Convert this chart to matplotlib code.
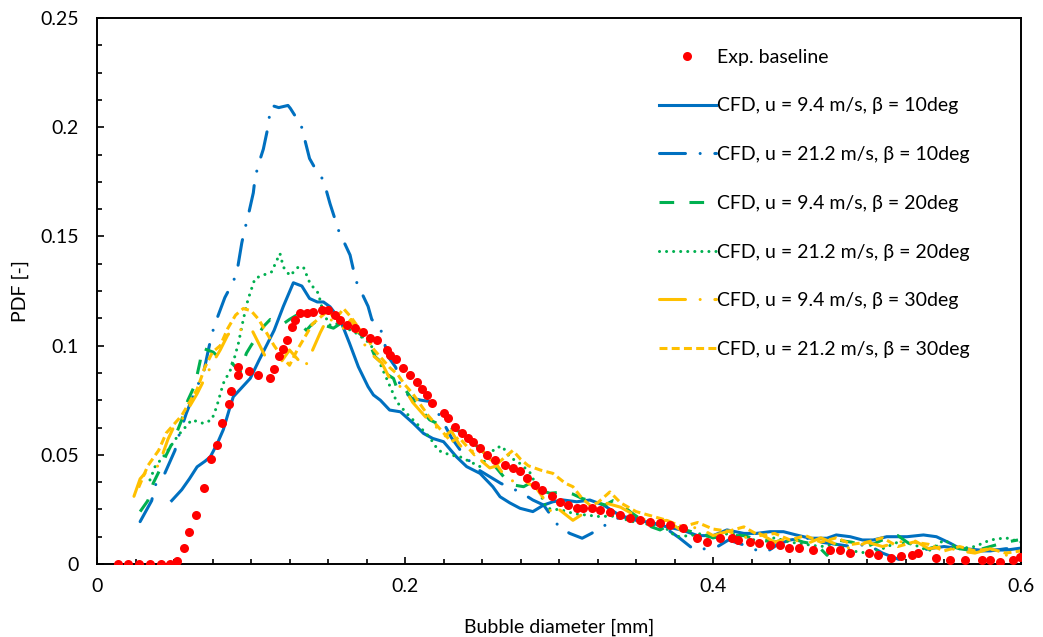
import matplotlib
matplotlib.use('Agg')
import matplotlib.pyplot as plt
from matplotlib.ticker import MultipleLocator

plt.rcParams['font.family'] = ['Lato', 'DejaVu Sans']

# experimental baseline (red dots)
exp_x = [0.0134, 0.0203, 0.0270, 0.0345, 0.0414, 0.0474, 0.0521, 0.0563, 0.0600, 0.0640,
         0.0696, 0.0739, 0.0777, 0.0810, 0.0857, 0.0870, 0.0913, 0.0918, 0.0985, 0.1048,
         0.1123, 0.1150, 0.1184, 0.1210, 0.1232, 0.1264, 0.1286, 0.1318, 0.1362, 0.1405,
         0.1460, 0.1500, 0.1545, 0.1580, 0.1620, 0.1675, 0.1730, 0.1773, 0.1816, 0.1880,
         0.1900, 0.1940, 0.1990, 0.2032, 0.2076, 0.2110, 0.2140, 0.2173, 0.2250, 0.2280,
         0.2325, 0.2368, 0.2410, 0.2444, 0.2487, 0.2530, 0.2584, 0.2650, 0.2703, 0.2747,
         0.2790, 0.2844, 0.2888, 0.2953, 0.3006, 0.3060, 0.3115, 0.3158, 0.3212, 0.3266,
         0.3330, 0.3396, 0.3460, 0.3526, 0.3590, 0.3656, 0.3720, 0.3807, 0.3894, 0.3960,
         0.4045, 0.4120, 0.4164, 0.4240, 0.4300, 0.4370, 0.4435, 0.4490, 0.4556, 0.4650,
         0.4760, 0.4825, 0.4890, 0.5010, 0.5073, 0.5156, 0.5220, 0.5290, 0.5333, 0.5450,
         0.5540, 0.5636, 0.5745, 0.5800, 0.5864, 0.5950, 0.5990]
exp_y = [0, 0, 0, 0, 0, 0, 0.0015, 0.0073, 0.0145, 0.0225,
         0.0346, 0.0480, 0.0543, 0.0644, 0.0735, 0.0792, 0.0900, 0.0865, 0.0882, 0.0865,
         0.0850, 0.0893, 0.0952, 0.0983, 0.1026, 0.1087, 0.1117, 0.1148, 0.1151, 0.1155,
         0.1163, 0.1163, 0.1140, 0.1117, 0.1094, 0.1080, 0.1064, 0.1033, 0.1026, 0.0980,
         0.0957, 0.0940, 0.0896, 0.0865, 0.0835, 0.0800, 0.0774, 0.0736, 0.0690, 0.0668,
         0.0629, 0.0598, 0.0575, 0.0560, 0.0530, 0.0500, 0.0476, 0.0453, 0.0438, 0.0425,
         0.0395, 0.0360, 0.0339, 0.0310, 0.0285, 0.0270, 0.0255, 0.0255, 0.0255, 0.0247,
         0.0240, 0.0224, 0.0210, 0.0200, 0.0194, 0.0186, 0.0180, 0.0163, 0.0118, 0.0102,
         0.0118, 0.0118, 0.0110, 0.0102, 0.0095, 0.0087, 0.0087, 0.0072, 0.0072, 0.0064,
         0.0064, 0.0064, 0.0049, 0.0049, 0.0041, 0.0026, 0.0035, 0.0041, 0.0049, 0.0026,
         0.0018, 0.0018, 0.0018, 0.0018, 0.0010, 0.0018, 0.0033]

# CFD, u = 9.4 m/s, beta = 10deg
c1_x = [0.0485, 0.055, 0.060, 0.065, 0.070, 0.0735, 0.078, 0.082, 0.086, 0.0885,
        0.093, 0.0995, 0.105, 0.110, 0.115, 0.121, 0.1275, 0.133, 0.138, 0.143,
        0.147, 0.1513, 0.158, 0.164, 0.1697, 0.176, 0.1795, 0.184, 0.190, 0.197,
        0.2054, 0.212, 0.218, 0.225, 0.2335, 0.240, 0.2487, 0.257, 0.2617, 0.268,
        0.2747, 0.283, 0.290, 0.296, 0.3028, 0.3115, 0.320, 0.3288, 0.340, 0.350,
        0.360, 0.370, 0.380, 0.390, 0.400, 0.409, 0.420, 0.428, 0.437, 0.4457,
        0.454, 0.463, 0.474, 0.480, 0.489, 0.497, 0.504, 0.5128, 0.526, 0.5366,
        0.545, 0.554, 0.560, 0.573, 0.5907, 0.599]
c1_y = [0.029, 0.034, 0.039, 0.0445, 0.047, 0.049, 0.055, 0.0615, 0.071, 0.0766,
        0.080, 0.085, 0.093, 0.100, 0.107, 0.118, 0.1288, 0.1273, 0.1216, 0.120,
        0.120, 0.1178, 0.1117, 0.101, 0.0903, 0.0812, 0.0774, 0.075, 0.0705, 0.0697,
        0.0644, 0.0598, 0.0575, 0.056, 0.049, 0.0446, 0.0415, 0.0354, 0.0308, 0.028,
        0.0255, 0.024, 0.027, 0.0285, 0.0293, 0.0285, 0.0293, 0.027, 0.022, 0.020,
        0.019, 0.017, 0.0155, 0.013, 0.013, 0.0156, 0.014, 0.014, 0.0148, 0.0148,
        0.0133, 0.0118, 0.0118, 0.0133, 0.0125, 0.011, 0.011, 0.0125, 0.0125, 0.0133,
        0.0125, 0.0095, 0.0072, 0.0064, 0.0064, 0.0072]

# CFD, u = 21.2 m/s, beta = 10deg
c2_x = [0.028, 0.0355, 0.0377, 0.044, 0.0506, 0.0528, 0.058, 0.0647, 0.069, 0.0723,
        0.0747, 0.0777, 0.083, 0.0875, 0.0907, 0.094, 0.0955, 0.098, 0.1015, 0.1026,
        0.1047, 0.108, 0.111, 0.1123, 0.1134, 0.118, 0.121, 0.124, 0.1255, 0.130,
        0.132, 0.138, 0.142, 0.147, 0.1513, 0.1545, 0.1567, 0.1643, 0.1664, 0.1686,
        0.176, 0.1784, 0.184, 0.189, 0.194, 0.197, 0.204, 0.2105, 0.2173, 0.224,
        0.230, 0.236, 0.242, 0.248, 0.255, 0.262, 0.268, 0.2747, 0.283, 0.290,
        0.295, 0.300, 0.307, 0.315, 0.321, 0.328, 0.340, 0.350, 0.360, 0.370,
        0.378, 0.388, 0.395, 0.403, 0.410, 0.420, 0.428, 0.435, 0.442, 0.450,
        0.460, 0.470, 0.480, 0.490, 0.500, 0.510, 0.521, 0.530, 0.540, 0.550,
        0.560, 0.570, 0.580, 0.590, 0.600]
c2_y = [0.0194, 0.029, 0.036, 0.0415, 0.052, 0.058, 0.069, 0.081, 0.087, 0.098,
        0.1056, 0.112, 0.122, 0.128, 0.133, 0.147, 0.152, 0.159, 0.170, 0.1766,
        0.1827, 0.190, 0.200, 0.207, 0.210, 0.209, 0.2095, 0.210, 0.2087, 0.2037,
        0.2025, 0.1857, 0.1807, 0.1758, 0.165, 0.158, 0.153, 0.1415, 0.135, 0.129,
        0.118, 0.112, 0.108, 0.095, 0.090, 0.081, 0.076, 0.075, 0.0743, 0.066,
        0.058, 0.052, 0.047, 0.043, 0.040, 0.037, 0.035, 0.033, 0.0293, 0.027,
        0.022, 0.017, 0.014, 0.0118, 0.014, 0.017, 0.0217, 0.021, 0.019, 0.016,
        0.012, 0.0064, 0.007, 0.008, 0.011, 0.0087, 0.0064, 0.0056, 0.009, 0.011,
        0.012, 0.010, 0.009, 0.008, 0.009, 0.005, 0.002, 0.005, 0.007, 0.008,
        0.007, 0.006, 0.006, 0.007, 0.007]

# CFD, u = 9.4 m/s, beta = 20deg
c3_x = [0.028, 0.033, 0.0365, 0.040, 0.045, 0.050, 0.055, 0.059, 0.0636, 0.067,
        0.068, 0.0755, 0.080, 0.0875, 0.093, 0.097, 0.100, 0.1047, 0.108, 0.1125,
        0.1167, 0.121, 0.125, 0.1297, 0.132, 0.136, 0.139, 0.144, 0.149, 0.1535,
        0.160, 0.164, 0.168, 0.173, 0.176, 0.1805, 0.184, 0.188, 0.1925, 0.195,
        0.199, 0.205, 0.210, 0.216, 0.222, 0.228, 0.234, 0.241, 0.2465, 0.250,
        0.257, 0.264, 0.267, 0.272, 0.277, 0.281, 0.287, 0.294, 0.303, 0.309,
        0.315, 0.323, 0.330, 0.335, 0.340, 0.346, 0.352, 0.360, 0.3656, 0.372,
        0.380, 0.390, 0.400, 0.410, 0.420, 0.430, 0.440, 0.450, 0.4587, 0.467,
        0.474, 0.480, 0.490, 0.500, 0.510, 0.520, 0.530, 0.540, 0.550, 0.560,
        0.570, 0.580, 0.590, 0.598]
c3_y = [0.024, 0.029, 0.037, 0.042, 0.050, 0.057, 0.066, 0.075, 0.082, 0.093,
        0.099, 0.097, 0.094, 0.092, 0.088, 0.0965, 0.100, 0.105, 0.1087, 0.112,
        0.111, 0.110, 0.112, 0.114, 0.110, 0.107, 0.1094, 0.112, 0.109, 0.108,
        0.111, 0.1094, 0.107, 0.104, 0.1026, 0.095, 0.0926, 0.087, 0.085, 0.080,
        0.081, 0.075, 0.071, 0.066, 0.064, 0.063, 0.061, 0.060, 0.054, 0.052,
        0.046, 0.040, 0.0385, 0.036, 0.0354, 0.037, 0.034, 0.0324, 0.033, 0.032,
        0.030, 0.0285, 0.027, 0.029, 0.028, 0.024, 0.021, 0.017, 0.0156, 0.018,
        0.016, 0.014, 0.012, 0.013, 0.013, 0.011, 0.010, 0.012, 0.010, 0.009,
        0.004, 0.011, 0.010, 0.008, 0.011, 0.013, 0.008, 0.007, 0.009, 0.007,
        0.006, 0.008, 0.010, 0.011]

# CFD, u = 21.2 m/s, beta = 20deg
c4_x = [0.0344, 0.0377, 0.044, 0.0528, 0.0615, 0.069, 0.0745, 0.0777, 0.082, 0.0875,
        0.0918, 0.095, 0.098, 0.1015, 0.1026, 0.108, 0.1134, 0.1167, 0.1188, 0.121,
        0.1253, 0.1307, 0.134, 0.1383, 0.1437, 0.147, 0.1513, 0.1556, 0.162, 0.1686,
        0.1773, 0.183, 0.188, 0.1946, 0.201, 0.208, 0.216, 0.2216, 0.229, 0.236,
        0.2487, 0.2584, 0.263, 0.268, 0.2747, 0.281, 0.286, 0.292, 0.3017, 0.310,
        0.318, 0.3266, 0.334, 0.340, 0.350, 0.360, 0.370, 0.376, 0.385, 0.393,
        0.400, 0.410, 0.420, 0.430, 0.440, 0.450, 0.460, 0.470, 0.480, 0.490,
        0.500, 0.510, 0.520, 0.530, 0.540, 0.550, 0.560, 0.570, 0.580, 0.590,
        0.600]
c4_y = [0.0385, 0.0446, 0.050, 0.059, 0.066, 0.0644, 0.066, 0.072, 0.0827, 0.090,
        0.101, 0.112, 0.121, 0.1285, 0.1308, 0.1323, 0.1338, 0.139, 0.1422, 0.136,
        0.132, 0.136, 0.136, 0.1285, 0.124, 0.1148, 0.1094, 0.110, 0.108, 0.1056,
        0.101, 0.093, 0.085, 0.0743, 0.069, 0.064, 0.058, 0.052, 0.050, 0.049,
        0.0446, 0.053, 0.054, 0.049, 0.046, 0.042, 0.035, 0.0255, 0.0247, 0.023,
        0.0224, 0.0217, 0.022, 0.021, 0.019, 0.018, 0.016, 0.0125, 0.013, 0.014,
        0.012, 0.014, 0.013, 0.010, 0.012, 0.010, 0.009, 0.008, 0.009, 0.006,
        0.005, 0.007, 0.010, 0.009, 0.006, 0.011, 0.007, 0.008, 0.011, 0.012,
        0.010]

# CFD, u = 9.4 m/s, beta = 30deg
c5_x = [0.024, 0.028, 0.033, 0.040, 0.046, 0.050, 0.055, 0.060, 0.065, 0.070,
        0.075, 0.080, 0.085, 0.090, 0.095, 0.100, 0.105, 0.110, 0.115, 0.120,
        0.125, 0.130, 0.135, 0.140, 0.145, 0.150, 0.155, 0.160, 0.165, 0.170,
        0.175, 0.180, 0.185, 0.190, 0.195, 0.200, 0.205, 0.210, 0.215, 0.220,
        0.225, 0.230, 0.235, 0.240, 0.245, 0.250, 0.255, 0.260, 0.265, 0.270,
        0.275, 0.280, 0.285, 0.290, 0.296, 0.300, 0.309, 0.320, 0.330, 0.340,
        0.350, 0.360, 0.370, 0.380, 0.390, 0.400, 0.410, 0.420, 0.430, 0.440,
        0.450, 0.460, 0.470, 0.480, 0.490, 0.500, 0.510, 0.520, 0.530, 0.540,
        0.550, 0.560, 0.570, 0.580, 0.590, 0.600]
c5_y = [0.031, 0.039, 0.043, 0.045, 0.057, 0.063, 0.066, 0.072, 0.078, 0.085,
        0.092, 0.098, 0.105, 0.108, 0.107, 0.108, 0.101, 0.094, 0.089, 0.093,
        0.098, 0.094, 0.090, 0.098, 0.106, 0.113, 0.110, 0.108, 0.112, 0.105,
        0.099, 0.095, 0.092, 0.085, 0.082, 0.080, 0.074, 0.070, 0.066, 0.063,
        0.058, 0.061, 0.055, 0.051, 0.052, 0.047, 0.044, 0.045, 0.040, 0.038,
        0.040, 0.037, 0.035, 0.030, 0.0224, 0.025, 0.020, 0.025, 0.028, 0.026,
        0.022, 0.019, 0.020, 0.015, 0.017, 0.013, 0.015, 0.012, 0.014, 0.010,
        0.012, 0.009, 0.012, 0.009, 0.007, 0.010, 0.008, 0.010, 0.011, 0.007,
        0.008, 0.006, 0.005, 0.007, 0.004, 0.005]

# CFD, u = 21.2 m/s, beta = 30deg
c6_x = [0.027, 0.033, 0.040, 0.045, 0.050, 0.055, 0.060, 0.065, 0.070, 0.075,
        0.080, 0.085, 0.090, 0.095, 0.100, 0.105, 0.110, 0.115, 0.120, 0.125,
        0.130, 0.135, 0.140, 0.145, 0.150, 0.155, 0.160, 0.165, 0.170, 0.175,
        0.180, 0.185, 0.190, 0.195, 0.200, 0.205, 0.210, 0.215, 0.220, 0.225,
        0.230, 0.235, 0.240, 0.245, 0.250, 0.255, 0.260, 0.265, 0.270, 0.275,
        0.280, 0.288, 0.296, 0.304, 0.309, 0.315, 0.320, 0.325, 0.333, 0.340,
        0.350, 0.360, 0.370, 0.380, 0.390, 0.400, 0.410, 0.420, 0.430, 0.440,
        0.450, 0.460, 0.470, 0.480, 0.490, 0.500, 0.510, 0.520, 0.530, 0.540,
        0.550, 0.560, 0.570, 0.580, 0.590, 0.600]
c6_y = [0.035, 0.045, 0.052, 0.060, 0.064, 0.068, 0.074, 0.080, 0.090, 0.097,
        0.100, 0.108, 0.114, 0.117, 0.116, 0.112, 0.106, 0.100, 0.095, 0.091,
        0.098, 0.104, 0.110, 0.113, 0.116, 0.112, 0.117, 0.113, 0.108, 0.104,
        0.098, 0.094, 0.090, 0.087, 0.082, 0.078, 0.073, 0.068, 0.064, 0.060,
        0.056, 0.058, 0.054, 0.050, 0.052, 0.048, 0.046, 0.049, 0.052, 0.048,
        0.045, 0.043, 0.0415, 0.037, 0.0354, 0.030, 0.027, 0.028, 0.033, 0.028,
        0.024, 0.022, 0.020, 0.017, 0.019, 0.016, 0.015, 0.017, 0.013, 0.014,
        0.011, 0.013, 0.010, 0.012, 0.009, 0.010, 0.012, 0.008, 0.010, 0.009,
        0.006, 0.008, 0.006, 0.007, 0.005, 0.006]

labels = ['Exp. baseline',
          'CFD, u = 9.4 m/s, β = 10deg',
          'CFD, u = 21.2 m/s, β = 10deg',
          'CFD, u = 9.4 m/s, β = 20deg',
          'CFD, u = 21.2 m/s, β = 20deg',
          'CFD, u = 9.4 m/s, β = 30deg',
          'CFD, u = 21.2 m/s, β = 30deg']

x_ticks = [0, 0.2, 0.4, 0.6]
x_ticklabels = ['0', '0.2', '0.4', '0.6']
y_ticks = [0, 0.05, 0.1, 0.15, 0.2, 0.25]
y_ticklabels = ['0', '0.05', '0.1', '0.15', '0.2', '0.25']

BLUE = '#0070C0'
GREEN = '#00B050'
GOLD = '#FFC000'
LW = 2.2

fig = plt.figure(figsize=(10.43, 6.37), dpi=100)
ax = fig.add_axes([0.093, 0.1146, 0.886, 0.857])

ax.plot(exp_x, exp_y, 'o', color='#FF0000', ms=6.5, mec='none', label=labels[0], zorder=5)
ax.plot(c1_x, c1_y, color=BLUE, lw=LW, label=labels[1])
ax.plot(c2_x, c2_y, color=BLUE, lw=LW, dashes=(8.5, 4.8, 0.01, 4.8),
        dash_capstyle='round', label=labels[2])
ax.plot(c3_x, c3_y, color=GREEN, lw=LW, dashes=(4.8, 5.0), label=labels[3])
ax.plot(c4_x, c4_y, color=GREEN, lw=LW, dashes=(0.01, 2.3),
        dash_capstyle='round', label=labels[4])
ax.plot(c5_x, c5_y, color=GOLD, lw=LW, dashes=(8.5, 4.8, 0.01, 4.8),
        dash_capstyle='round', label=labels[5])
ax.plot(c6_x, c6_y, color=GOLD, lw=LW, dashes=(2.6, 1.4), label=labels[6])

ax.set_xlim(0, 0.6)
ax.set_ylim(0, 0.25)
ax.set_xticks(x_ticks)
ax.set_xticklabels(x_ticklabels)
ax.set_yticks(y_ticks)
ax.set_yticklabels(y_ticklabels)
ax.xaxis.set_minor_locator(MultipleLocator(0.025))
ax.yaxis.set_minor_locator(MultipleLocator(0.0125))
ax.tick_params(which='both', direction='in', width=1.2, labelsize=14, colors='black')
ax.tick_params(which='major', length=5)
ax.tick_params(which='minor', length=3.5)
ax.tick_params(axis='x', which='major', pad=10)
ax.tick_params(axis='y', which='major', pad=13)
for s in ax.spines.values():
    s.set_linewidth(1.4)

ax.set_xlabel('Bubble diameter [mm]', fontsize=14, labelpad=17)
ax.set_ylabel('PDF [-]', fontsize=14, labelpad=8)

ax.legend(loc='upper left', bbox_to_anchor=(0.6, 0.958), frameon=False,
          fontsize=14, handlelength=2.9, handletextpad=0.05, labelspacing=1.63,
          borderaxespad=0)

fig.savefig('out.png', dpi=100)
